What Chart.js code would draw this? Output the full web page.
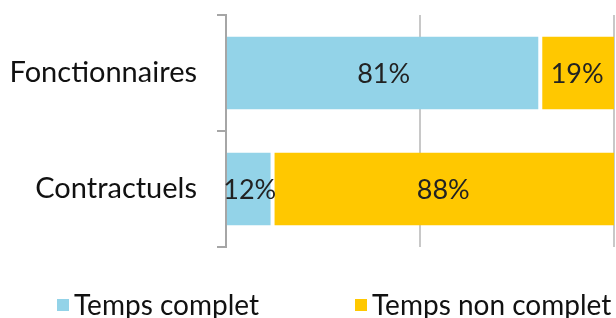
<!DOCTYPE html>
<html>
<head>
<meta charset="utf-8">
<script src="https://cdn.jsdelivr.net/npm/chart.js@4/dist/chart.umd.min.js"></script>
<style>
html,body{margin:0;padding:0;background:#fff;}
#wrap{width:616px;height:318px;position:relative;}
</style>
</head>
<body>
<div id="wrap"><canvas id="c" width="616" height="318"></canvas></div>
<script>
const categories = ["Fonctionnaires", "Contractuels"];
const seriesNames = ["Temps complet", "Temps non complet"];
const tempsComplet = [81, 12];
const tempsNonComplet = [19, 88];
const colors = ["#93D3E8", "#FFC800"];
const FONT = "Lato, 'Open Sans', sans-serif";

const dataLabels = {
  id: 'dataLabels',
  afterDatasetsDraw(chart) {
    const ctx = chart.ctx;
    ctx.save();
    ctx.font = "27px " + FONT;
    ctx.fillStyle = "#222";
    ctx.textAlign = "center";
    ctx.textBaseline = "middle";
    chart.data.datasets.forEach((ds, i) => {
      const meta = chart.getDatasetMeta(i);
      meta.data.forEach((el, j) => {
        const p = el.getProps(['x', 'y', 'base'], true);
        ctx.fillText(ds.data[j] + "%", (p.x + p.base) / 2, p.y + 1);
      });
    });
    ctx.restore();
  }
};

// bottom legend drawn from the datasets (label + colour)
const bottomLegend = {
  id: 'bottomLegend',
  afterDraw(chart, args, opts) {
    const ctx = chart.ctx;
    ctx.save();
    ctx.font = opts.fontSize + "px " + FONT;
    ctx.textBaseline = "middle";
    ctx.textAlign = "left";
    chart.data.datasets.forEach((ds, i) => {
      const x = opts.itemX[i];
      ctx.fillStyle = ds.backgroundColor;
      ctx.fillRect(x, opts.centerY - opts.box / 2, opts.box, opts.box);
      ctx.fillStyle = "#111";
      ctx.fillText(ds.label, x + opts.box + opts.gap, opts.centerY + 1);
    });
    ctx.restore();
  }
};

new Chart(document.getElementById('c'), {
  type: 'bar',
  data: {
    labels: categories,
    datasets: [
      { label: seriesNames[0], data: tempsComplet, backgroundColor: colors[0],
        borderColor: "#fff", borderWidth: {left:0, right:2, top:0, bottom:0}, borderSkipped: false },
      { label: seriesNames[1], data: tempsNonComplet, backgroundColor: colors[1],
        borderColor: "#fff", borderWidth: {left:2, right:0, top:0, bottom:0}, borderSkipped: false }
    ]
  },
  options: {
    indexAxis: 'y',
    responsive: false,
    animation: false,
    devicePixelRatio: 1,
    layout: { padding: { top: 15, right: 2, left: 0, bottom: 71 } },
    datasets: { bar: { categoryPercentage: 1, barPercentage: 0.63 } },
    scales: {
      x: {
        stacked: true, min: 0, max: 100,
        ticks: { display: false, stepSize: 50 },
        grid: { color: "#C8C8C8", lineWidth: 2, drawTicks: false },
        border: { display: false },
        afterFit(s) { s.height = 0; }
      },
      y: {
        stacked: true,
        ticks: { color: "#111", font: { family: FONT, size: 29 }, padding: 20 },
        grid: { drawOnChartArea: false, drawTicks: true, tickLength: 9, color: "#A6A6A6", lineWidth: 2, offset: true },
        border: { display: true, color: "#A6A6A6", width: 2 },
        afterFit(s) { s.width = 226; s.paddingTop = 0; s.paddingBottom = 0; }
      }
    },
    plugins: {
      legend: { display: false },
      tooltip: { enabled: false },
      bottomLegend: { itemX: [57, 355], centerY: 305, box: 12, gap: 5, fontSize: 28 }
    }
  },
  plugins: [dataLabels, bottomLegend]
});
</script>
</body>
</html>
